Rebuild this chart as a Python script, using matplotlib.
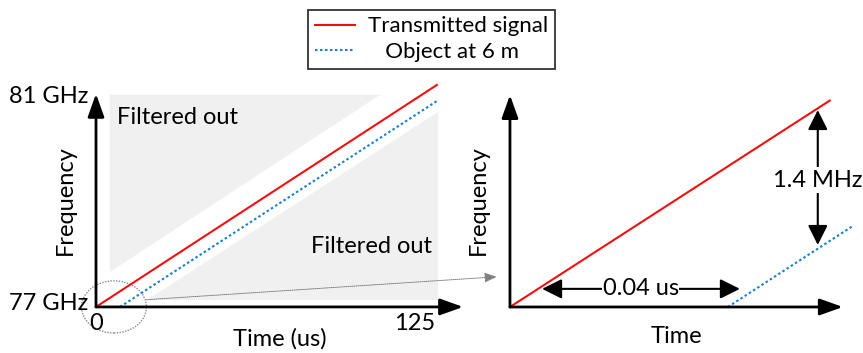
import matplotlib
matplotlib.use("Agg")
import matplotlib.pyplot as plt
from matplotlib.patches import Polygon, Ellipse, ConnectionPatch

plt.rcParams['font.family'] = ['Lato', 'DejaVu Sans']

# Rampa completa (us, GHz)
time_tx = [0, 125]
freq_tx = [77, 81]
time_rx = [8.8, 125]
freq_rx = [77, 80.71]

# Regioes filtradas (us, GHz)
filt_upper_t = [5.1, 104.1, 5.1]
filt_upper_f = [80.82, 80.82, 77.63]
filt_lower_t = [18.7, 125.4, 125.4]
filt_lower_f = [77.13, 77.13, 80.51]

# Zoom na origem (us, MHz acima de 77 GHz)
zoom_time_tx = [0, 0.0587]
zoom_freq_tx = [0, 2.05]
zoom_time_rx = [0.04, 0.0628]
zoom_freq_rx = [0, 0.80]
delay_us = 0.04
beat_mhz = 1.4

red = '#f01010'
blue = '#1a7fd0'
gray = '#f0f0f0'
fs = 17

fig = plt.figure(figsize=(8.63, 3.53), dpi=100)

# ---- painel esquerdo ----
ax1 = fig.add_axes([0, 0, 480 / 863, 1])
ax1.set_xlim(-35.2, 140.8)
ax1.set_ylim(76.17, 82.53)
ax1.axis('off')

ax1.add_patch(Polygon(list(zip(filt_upper_t, filt_upper_f)), closed=True,
                      facecolor=gray, edgecolor='none'))
ax1.add_patch(Polygon(list(zip(filt_lower_t, filt_lower_f)), closed=True,
                      facecolor=gray, edgecolor='none'))

l_tx, = ax1.plot(time_tx, freq_tx, color=red, lw=1.5, label='Transmitted signal')
l_rx, = ax1.plot(time_rx, freq_rx, color=blue, lw=1.5, ls=(0, (1.2, 1.2)),
                 label='   Object at 6 m')

arrow_axis = dict(arrowstyle='-|>,head_length=0.7,head_width=0.25',
                  color='black', lw=2, mutation_scale=20, shrinkA=0, shrinkB=0)
ax1.annotate('', xy=(0, 80.84), xytext=(0, 77), arrowprops=arrow_axis)
ax1.annotate('', xy=(134.6, 77), xytext=(0, 77), arrowprops=arrow_axis)

ax1.text(-2.9, 80.80, '81 GHz', ha='right', va='center', fontsize=fs)
ax1.text(-2.9, 77.07, '77 GHz', ha='right', va='center', fontsize=fs)
ax1.text(0, 76.70, '0', ha='center', va='center', fontsize=fs)
ax1.text(116.9, 76.70, '125', ha='center', va='center', fontsize=fs)
ax1.text(67.4, 76.43, 'Time (us)', ha='center', va='center', fontsize=fs)
ax1.text(-11.4, 78.93, 'Frequency', ha='center', va='center', rotation=90, fontsize=fs)
ax1.text(7.7, 80.41, 'Filtered out', ha='left', va='center', fontsize=fs)
ax1.text(123.2, 78.08, 'Filtered out', ha='right', va='center', fontsize=fs)

ax1.add_patch(Ellipse((6.6, 77.0), 23.8, 0.94, facecolor='none',
                      edgecolor='#8a8a8a', lw=1, ls=(0, (1, 1))))

# ---- painel direito ----
ax2 = fig.add_axes([480 / 863, 0, 383 / 863, 1])
ax2.set_xlim(-0.0055, 0.0648)
ax2.set_ylim(-0.457, 3.049)
ax2.axis('off')

ax2.plot(zoom_time_tx, zoom_freq_tx, color=red, lw=1.5)
ax2.plot(zoom_time_rx, zoom_freq_rx, color=blue, lw=1.5, ls=(0, (1.2, 1.2)))

ax2.annotate('', xy=(0, 2.105), xytext=(0, 0), arrowprops=arrow_axis)
ax2.annotate('', xy=(0.0611, 0), xytext=(0, 0), arrowprops=arrow_axis)

dim_arrow = dict(arrowstyle='<|-|>,head_length=0.6,head_width=0.3',
                 color='black', lw=1.5, mutation_scale=20, shrinkA=0, shrinkB=0)
ax2.annotate('', xy=(0.0059, 0.18), xytext=(0.0422, 0.18), arrowprops=dim_arrow)
ax2.text(0.0240, 0.18, f'{delay_us:g} us', ha='center', va='center', fontsize=fs,
         bbox=dict(facecolor='white', edgecolor='none', pad=0.5))
ax2.annotate('', xy=(0.0565, 1.956), xytext=(0.0565, 0.616), arrowprops=dim_arrow)
ax2.text(0.0565, 1.26, f'{beat_mhz:g} MHz', ha='center', va='center', fontsize=fs,
         bbox=dict(facecolor='white', edgecolor='none', pad=2))

ax2.text(-0.00587, 1.063, 'Frequency', ha='center', va='center', rotation=90, fontsize=fs)
ax2.text(0.0306, -0.298, 'Time', ha='center', va='center', fontsize=fs)

# linha pontilhada do zoom
con = ConnectionPatch(xyA=(18.5, 77.13), coordsA='data', axesA=ax1,
                      xyB=(-0.0024, 0.30), coordsB='data', axesB=ax2,
                      arrowstyle='-|>,head_length=0.5,head_width=0.2', mutation_scale=15,
                      color='#808080', lw=0.7, ls=(0, (1, 1)))
fig.add_artist(con)

leg = fig.legend(handles=[l_tx, l_rx], loc='upper center', bbox_to_anchor=(0.5, 0.985),
                 fontsize=16, frameon=True, fancybox=False, handlelength=1.8,
                 borderpad=0.3, labelspacing=0.25, handletextpad=0.6, borderaxespad=0.2)
leg.get_frame().set_edgecolor('black')
leg.get_frame().set_linewidth(1.3)

fig.savefig('out.png', dpi=100)
